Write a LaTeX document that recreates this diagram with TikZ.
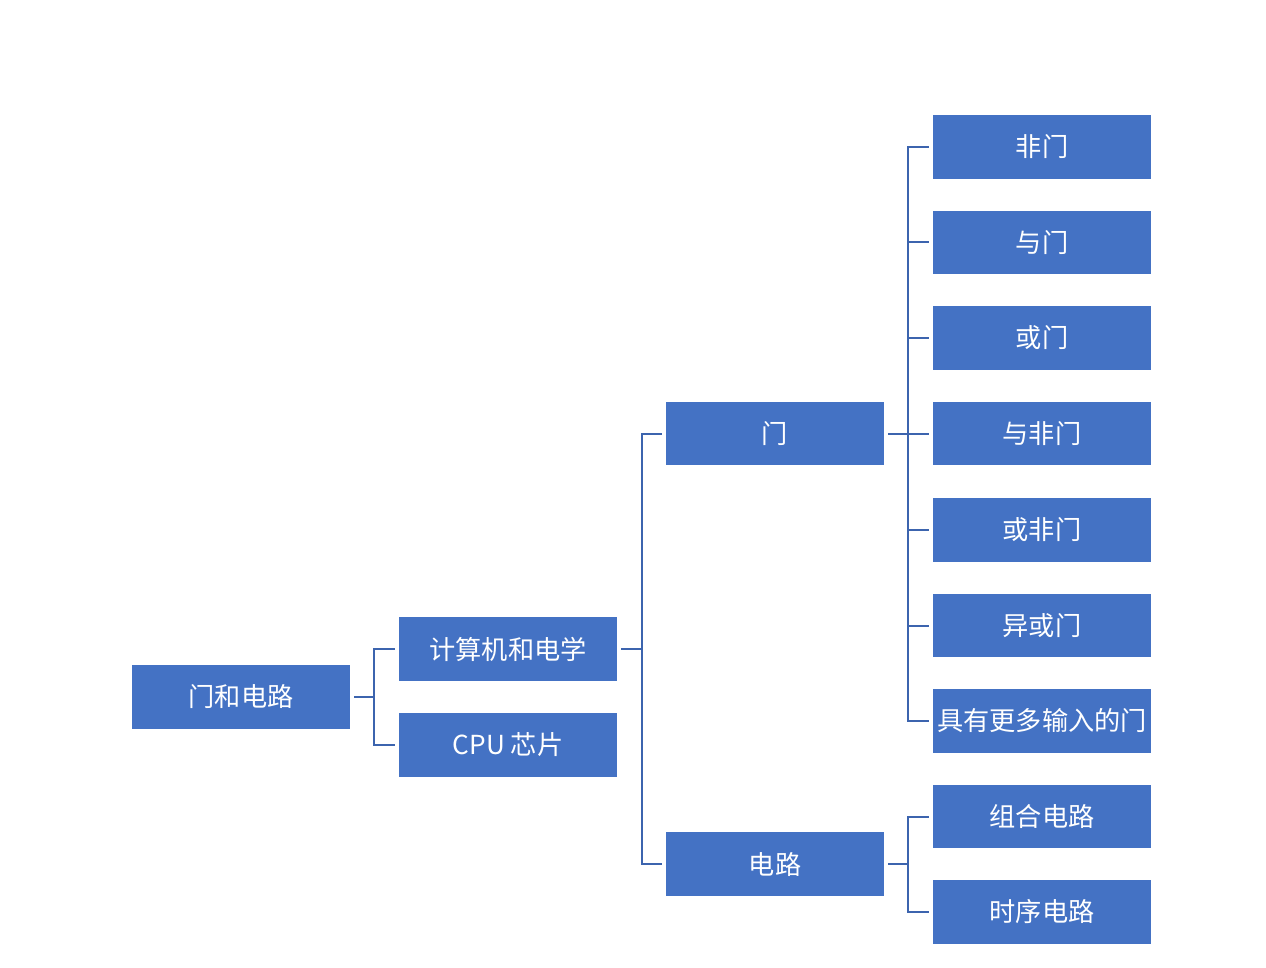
\documentclass[tikz,border=0pt]{standalone}
\usepackage{fontspec}
\newfontfamily\cjk{Noto Sans CJK SC}
\usetikzlibrary{positioning}
\definecolor{boxblue}{HTML}{4472C4}
\definecolor{lineblue}{HTML}{3C64AE}

\begin{document}
\begin{tikzpicture}[x=1pt, y=-1pt,
    box/.style={rectangle, fill=boxblue, text=white, minimum width=218pt,
        minimum height=63.5pt, inner sep=0pt, font=\cjk\fontsize{26.2}{30}\selectfont},
    link/.style={draw=lineblue, line width=2pt}]
    \useasboundingbox (0,0) rectangle (1266,968);

    % Define nodes
    \node[box] (root) at (241,697) {门和电路};
    \node[box] (comp) at (508,649) {计算机和电学};
    \node[box] (cpu) at (508,745) {CPU 芯片};
    \node[box] (gate) at (775,433.5) {门};
    \node[box] (circ) at (775,864) {电路};
    \foreach \name/\y/\txt in {ng/147/非门, ag/242.5/与门, og/338/或门,
        nag/433.5/与非门, nog/530/或非门, xg/625.5/异或门, mg/721/具有更多输入的门}
        \node[box] (\name) at (1042,\y) {\txt};
    \node[box] (comb) at (1042,816.5) {组合电路};
    \node[box] (seq) at (1042,912) {时序电路};

    % Draw connectors
    \foreach \kid in {comp,cpu}
        \draw[link] ([xshift=4pt]root.east) -- ++(20,0) |- ([xshift=-4pt]\kid.west);
    \foreach \kid in {gate,circ}
        \draw[link] ([xshift=4pt]comp.east) -- ++(21,0) |- ([xshift=-4pt]\kid.west);
    \foreach \kid in {ng,ag,og,nag,nog,xg,mg}
        \draw[link] ([xshift=4pt]gate.east) -- ++(20,0) |- ([xshift=-4pt]\kid.west);
    \foreach \kid in {comb,seq}
        \draw[link] ([xshift=4pt]circ.east) -- ++(20,0) |- ([xshift=-4pt]\kid.west);
\end{tikzpicture}
\end{document}
